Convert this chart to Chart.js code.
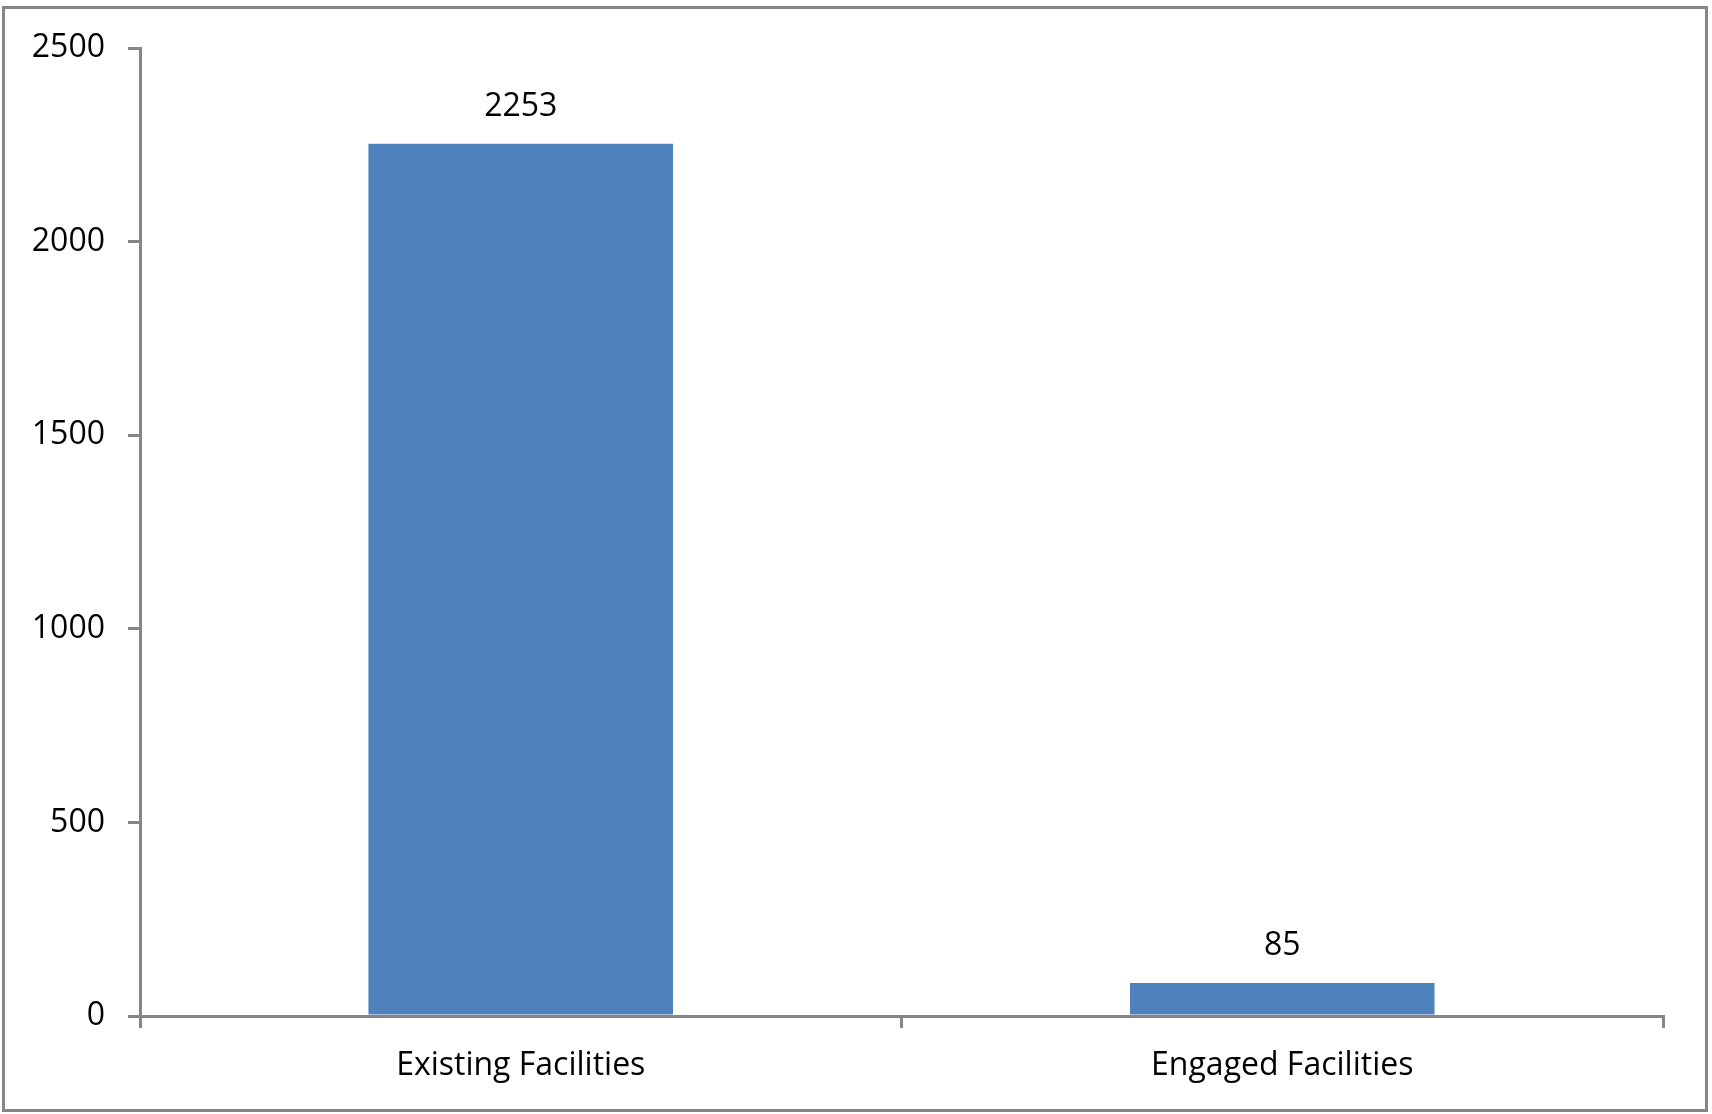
<!DOCTYPE html>
<html>
<head>
<meta charset="utf-8">
<script src="https://cdn.jsdelivr.net/npm/chart.js@4/dist/chart.umd.min.js"></script>
<style>
  body { margin: 0; background: #fff; }
  #frame {
    position: absolute; left: 2px; top: 6px;
    width: 1700px; height: 1100px;
    border: 3px solid #878787;
  }
  #wrap { position: absolute; left: 0; top: 0; width: 1712px; height: 1114px; }
</style>
</head>
<body>
<div id="frame"></div>
<div id="wrap"><canvas id="chart"></canvas></div>
<script>
const categories = ["Existing Facilities", "Engaged Facilities"];
const facilityCounts = [2253, 85];
const yTicks = [0, 500, 1000, 1500, 2000, 2500];

const axisGray = "#868686";
const fontFamily = "'Open Sans', sans-serif";
const fontSize = 32;

// labels above the bars
const valueLabels = {
  id: "valueLabels",
  afterDatasetsDraw(chart) {
    const ctx = chart.ctx;
    const meta = chart.getDatasetMeta(0);
    ctx.save();
    ctx.font = fontSize + "px " + fontFamily;
    ctx.fillStyle = "#000";
    ctx.textAlign = "center";
    ctx.textBaseline = "middle";
    meta.data.forEach((bar, i) => {
      ctx.fillText(String(facilityCounts[i]), bar.x, bar.y - 37);
    });
    ctx.restore();
  },
};

new Chart(document.getElementById("chart"), {
  type: "bar",
  data: {
    labels: categories,
    datasets: [
      {
        data: facilityCounts,
        backgroundColor: "#4F81BD",
        categoryPercentage: 1,
        barPercentage: 0.4,
      },
    ],
  },
  options: {
    responsive: true,
    maintainAspectRatio: false,
    animation: false,
    devicePixelRatio: 1,
    layout: { padding: { top: 48, right: 49, left: 0, bottom: 0 } },
    plugins: {
      legend: { display: false },
      tooltip: { enabled: false },
    },
    scales: {
      x: {
        offset: true,
        grid: {
          offset: true,
          drawOnChartArea: false,
          drawTicks: true,
          tickLength: 12,
          color: axisGray,
          lineWidth: 3,
        },
        border: { color: axisGray, width: 3 },
        ticks: {
          color: "#000",
          padding: 19,
          font: { family: fontFamily, size: fontSize },
        },
        afterFit(scale) {
          scale.height = 98;
        },
      },
      y: {
        min: 0,
        max: 2500,
        afterBuildTicks(scale) {
          scale.ticks = yTicks.map((v) => ({ value: v }));
        },
        grid: {
          drawOnChartArea: false,
          tickLength: 12,
          color: axisGray,
          lineWidth: 3,
        },
        border: { color: axisGray, width: 3 },
        ticks: {
          color: "#000",
          padding: 23,
          font: { family: fontFamily, size: fontSize },
          callback: (value) => String(value),
        },
        afterFit(scale) {
          scale.width = 140;
        },
      },
    },
  },
  plugins: [valueLabels],
});
</script>
</body>
</html>
